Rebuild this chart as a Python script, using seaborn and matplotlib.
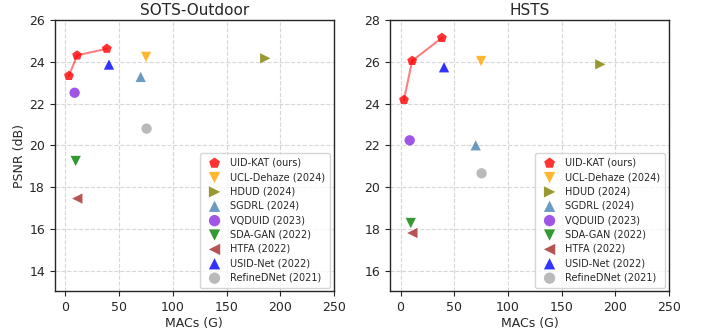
import numpy as np
import pandas as pd
import matplotlib
matplotlib.use('Agg')
import matplotlib.pyplot as plt
import seaborn as sns

# methods and their MACs (G)
methods = ['UCL-Dehaze (2024)', 'HDUD (2024)', 'SGDRL (2024)', 'VQDUID (2023)',
           'SDA-GAN (2022)', 'HTFA (2022)', 'USID-Net (2022)', 'RefineDNet (2021)']
macs = [75, 186, 70, 8.5, 9.5, 11, 40.5, 75.5]

# ours (three model sizes)
ours_macs = [3.2, 10.8, 38.5]
ours_sots = [23.33, 24.31, 24.63]
ours_hsts = [24.18, 26.05, 27.15]

# PSNR of other methods
psnr_sots = [24.24, 24.17, 23.28, 22.52, 19.25, 17.45, 23.87, 20.8]
psnr_hsts = [26.04, 25.88, 22.0, 22.24, 18.28, 17.8, 25.74, 20.66]

markers = ['v', '>', '^', 'o', 'v', '<', '^', 'o']
palette = ['orange', 'olive', 'steelblue', 'blueviolet', 'green', 'brown', 'blue', 'darkgray']

df_sots = pd.DataFrame({'method': methods, 'macs': macs, 'psnr': psnr_sots})
df_hsts = pd.DataFrame({'method': methods, 'macs': macs, 'psnr': psnr_hsts})

sns.set_style('ticks')
plt.rcParams['font.family'] = ['DejaVu Sans']

fig, axes = plt.subplots(1, 2, figsize=(7.02, 3.35), dpi=100)
fig.subplots_adjust(left=0.078, right=0.953, top=0.94, bottom=0.13, wspace=0.2)

panels = [(axes[0], 'SOTS-Outdoor', df_sots, ours_sots, (13, 26)),
          (axes[1], 'HSTS', df_hsts, ours_hsts, (15, 28))]

for ax, title, df, ours, ylim in panels:
    # line for ours
    ax.plot(ours_macs, ours, color='red', alpha=0.5, linewidth=1.5, zorder=2)
    ax.scatter(ours_macs, ours, marker='p', color='red', alpha=0.8, s=55,
               edgecolor='none', label='UID-KAT (ours)', zorder=3)
    for i, m in enumerate(methods):
        sub = df[df['method'] == m]
        sns.scatterplot(data=sub, x='macs', y='psnr', marker=markers[i], color=palette[i],
                        alpha=0.8, s=55, edgecolor='none', label=m, ax=ax, zorder=3)
    ax.set_title(title, fontsize=11, pad=4)
    ax.set_xlim(-10, 250)
    ax.set_ylim(*ylim)
    ax.set_xticks([0, 50, 100, 150, 200, 250])
    ax.set_xlabel('MACs (G)', fontsize=9, labelpad=2)
    ax.grid(True, linestyle='--', color='lightgray', linewidth=0.8, alpha=0.9)
    ax.set_axisbelow(True)
    ax.tick_params(labelsize=9, length=3.5)
    leg = ax.legend(loc='lower right', fontsize=7, frameon=True, handletextpad=0.6,
                    labelspacing=0.45, borderpad=0.5, markerscale=1.1, borderaxespad=0.4)
    for h in leg.legend_handles:
        h.set_alpha(0.8)
    for s in ax.spines.values():
        s.set_linewidth(1.0)

axes[0].set_ylabel('PSNR (dB)', fontsize=9, labelpad=2)
axes[1].set_ylabel('')

plt.savefig('out.png', dpi=100)
